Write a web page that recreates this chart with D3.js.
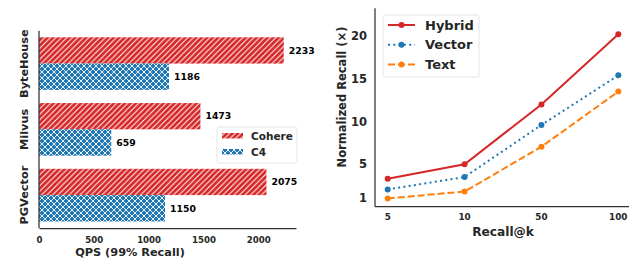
<!DOCTYPE html>
<html>
<head>
<meta charset="utf-8">
<script src="https://cdn.jsdelivr.net/npm/d3@7"></script>
<style>
  body { margin: 0; background: #fff; }
  svg { font-family: "DejaVu Sans", sans-serif; font-weight: bold; }
</style>
</head>
<body>
<svg id="chart" width="629" height="261"></svg>
<script>
// left panel data
var systems = ["ByteHouse", "Milvus", "PGVector"];
var cohereQps = [2233, 1473, 2075];
var c4Qps = [1186, 659, 1150];
var qpsTicks = [0, 500, 1000, 1500, 2000];

// right panel data
var recallK = ["5", "10", "50", "100"];
var hybridRecall = [3.3, 5.0, 12.0, 20.2];
var vectorRecall = [2.05, 3.5, 9.6, 15.4];
var textRecall = [1.0, 1.8, 7.05, 13.5];
var recallTicks = [1, 5, 10, 15, 20];

var red = "#d62728", blue = "#1f77b4", orange = "#ff7f0e", ink = "#262626";

var svg = d3.select("#chart");
var defs = svg.append("defs");

var p1 = defs.append("pattern").attr("id", "hatchRed")
    .attr("patternUnits", "userSpaceOnUse").attr("width", 5.5).attr("height", 5.5);
p1.append("rect").attr("width", 5.5).attr("height", 5.5).attr("fill", red);
p1.append("path").attr("d", "M-1,6.5 L6.5,-1 M-1,1 L1,-1 M4.5,6.5 L6.5,4.5")
    .attr("stroke", "#fff").attr("stroke-width", 1);

var p2 = defs.append("pattern").attr("id", "hatchBlue")
    .attr("patternUnits", "userSpaceOnUse").attr("width", 6).attr("height", 6);
p2.append("rect").attr("width", 6).attr("height", 6).attr("fill", blue);
p2.append("path").attr("d", "M-1,7 L7,-1 M-1,1 L1,-1 M5,7 L7,5 M-1,-1 L7,7 M-1,5 L1,7 M5,-1 L7,1")
    .attr("stroke", "#fff").attr("stroke-width", 0.9);

// ---------- left: horizontal bars ----------
var x = d3.scaleLinear().domain([0, 2345]).range([39, 296]);
var y = d3.scaleLinear().domain([-0.5, 2.5]).range([30.7, 228]);
var bh = 0.4;

var left = svg.append("g");

var groups = left.selectAll(".grp").data(systems).enter().append("g");

groups.append("rect")
    .attr("x", x(0))
    .attr("y", function(d, i) { return y(i - bh); })
    .attr("width", function(d, i) { return x(cohereQps[i]) - x(0); })
    .attr("height", y(bh) - y(0))
    .attr("fill", "url(#hatchRed)");

groups.append("rect")
    .attr("x", x(0))
    .attr("y", function(d, i) { return y(i); })
    .attr("width", function(d, i) { return x(c4Qps[i]) - x(0); })
    .attr("height", y(bh) - y(0))
    .attr("fill", "url(#hatchBlue)");

groups.append("text")
    .attr("x", function(d, i) { return x(cohereQps[i]) + 5; })
    .attr("y", function(d, i) { return y(i - bh / 2); })
    .attr("dy", "0.35em").attr("font-size", 9.3).attr("fill", "#000")
    .text(function(d, i) { return cohereQps[i]; });

groups.append("text")
    .attr("x", function(d, i) { return x(c4Qps[i]) + 5; })
    .attr("y", function(d, i) { return y(i + bh / 2); })
    .attr("dy", "0.35em").attr("font-size", 9.3).attr("fill", "#000")
    .text(function(d, i) { return c4Qps[i]; });

groups.append("text")
    .attr("transform", function(d, i) { return "translate(28," + y(i) + ") rotate(-90)"; })
    .attr("text-anchor", "middle").attr("font-size", 11.3).attr("fill", ink)
    .text(function(d) { return d; });

var xAxis = left.append("g")
    .attr("transform", "translate(0,228)")
    .call(d3.axisBottom(x).tickValues(qpsTicks).tickFormat(d3.format("d"))
        .tickSize(0).tickPadding(9));
xAxis.select(".domain").attr("stroke", "#333").attr("stroke-width", 1.25);
xAxis.selectAll("text").attr("font-size", 8.6).attr("fill", ink)
    .attr("font-family", "DejaVu Sans").attr("font-weight", "bold");

left.append("line").attr("x1", 39).attr("x2", 39).attr("y1", 30.7).attr("y2", 228)
    .attr("stroke", "#333").attr("stroke-width", 1.25);

left.append("text").attr("x", 130).attr("y", 256)
    .attr("text-anchor", "middle").attr("font-size", 11.3).attr("fill", ink)
    .text("QPS (99% Recall)");

// left legend
var lg = left.append("g");
lg.append("rect").attr("x", 217).attr("y", 127).attr("width", 80).attr("height", 36)
    .attr("rx", 2).attr("fill", "#fff").attr("stroke", "#ddd").attr("stroke-width", 0.8);
var legendBars = [["Cohere", "url(#hatchRed)"], ["C4", "url(#hatchBlue)"]];
lg.selectAll(".it").data(legendBars).enter().append("rect")
    .attr("x", 222).attr("y", function(d, i) { return 133 + i * 16; })
    .attr("width", 21).attr("height", 5.5).attr("fill", function(d) { return d[1]; });
lg.selectAll(".lt").data(legendBars).enter().append("text")
    .attr("x", 251).attr("y", function(d, i) { return 136 + i * 16; })
    .attr("dy", "0.35em").attr("font-size", 10.5).attr("fill", ink)
    .text(function(d) { return d[0]; });

// ---------- right: lines ----------
var xr = d3.scaleLinear().domain([0, 3]).range([387.7, 618.3]);
var yr = d3.scaleLinear().domain([0.03, 23.25]).range([206.7, 8.3]);

var right = svg.append("g");

var series = [
    { name: "Hybrid", values: hybridRecall, color: red, dash: null },
    { name: "Vector", values: vectorRecall, color: blue, dash: "2,3.3" },
    { name: "Text", values: textRecall, color: orange, dash: "7,3" }
];

var line = d3.line()
    .x(function(d, i) { return xr(i); })
    .y(function(d) { return yr(d); });

series.forEach(function(s) {
    right.append("path").datum(s.values)
        .attr("d", line).attr("fill", "none")
        .attr("stroke", s.color).attr("stroke-width", 2)
        .attr("stroke-dasharray", s.dash);
    right.selectAll(null).data(s.values).enter().append("circle")
        .attr("cx", function(d, i) { return xr(i); })
        .attr("cy", function(d) { return yr(d); })
        .attr("r", 3).attr("fill", s.color);
});

right.append("line").attr("x1", 375).attr("x2", 375).attr("y1", 8.3).attr("y2", 206.7)
    .attr("stroke", "#333").attr("stroke-width", 1.25);
right.append("line").attr("x1", 375).attr("x2", 629).attr("y1", 206.7).attr("y2", 206.7)
    .attr("stroke", "#333").attr("stroke-width", 1.25);

right.selectAll(".xt").data(recallK).enter().append("text")
    .attr("x", function(d, i) { return xr(i); }).attr("y", 220)
    .attr("text-anchor", "middle").attr("font-size", 8.8).attr("fill", ink)
    .text(function(d) { return d; });

right.selectAll(".yt").data(recallTicks).enter().append("text")
    .attr("x", 367).attr("y", function(d) { return yr(d); })
    .attr("dy", "0.35em").attr("text-anchor", "end")
    .attr("font-size", 11.5).attr("fill", ink)
    .text(function(d) { return d; });

right.append("text").attr("x", 503).attr("y", 236)
    .attr("text-anchor", "middle").attr("font-size", 12.2).attr("fill", ink)
    .text("Recall@k");

right.append("text")
    .attr("transform", "translate(346,97) rotate(-90)")
    .attr("text-anchor", "middle").attr("font-size", 11.5).attr("fill", ink)
    .text("Normalized Recall (×)");

// right legend
var rl = right.append("g");
rl.append("rect").attr("x", 383).attr("y", 15).attr("width", 96).attr("height", 62)
    .attr("rx", 2).attr("fill", "#fff").attr("stroke", "#ddd").attr("stroke-width", 0.8);
series.forEach(function(s, i) {
    var cy = 25 + i * 19.7;
    rl.append("line").attr("x1", 388).attr("x2", 415).attr("y1", cy).attr("y2", cy)
        .attr("stroke", s.color).attr("stroke-width", 2).attr("stroke-dasharray", s.dash);
    rl.append("circle").attr("cx", 401.5).attr("cy", cy).attr("r", 3).attr("fill", s.color);
    rl.append("text").attr("x", 425).attr("y", cy).attr("dy", "0.35em")
        .attr("font-size", 13).attr("fill", ink).text(s.name);
});
</script>
</body>
</html>
